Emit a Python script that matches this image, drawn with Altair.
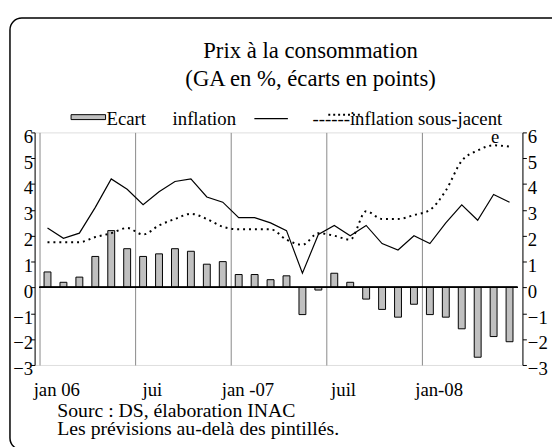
import altair as alt
import pandas as pd

# ---- data ----
months = list(range(30))  # jan 2006 .. jun 2008
ecart = [0.6, 0.2, 0.4, 1.2, 2.2, 1.5, 1.2, 1.3, 1.5, 1.4, 0.9, 1.0, 0.5, 0.5, 0.3,
         0.45, -1.05, -0.1, 0.55, 0.2, -0.45, -0.85, -1.15, -0.65, -1.05, -1.15, -1.6, -2.7, -1.9, -2.1]
inflation = [2.3, 1.9, 2.1, 3.1, 4.2, 3.8, 3.2, 3.7, 4.1, 4.2, 3.5, 3.3, 2.7, 2.7, 2.5,
             2.2, 0.55, 2.05, 2.4, 2.0, 2.4, 1.7, 1.45, 2.0, 1.7, 2.5, 3.2, 2.6, 3.6, 3.3]
sous_jacent = [1.75, 1.75, 1.75, 1.95, 2.1, 2.3, 2.05, 2.4, 2.65, 2.85, 2.65, 2.35, 2.25, 2.25, 2.25,
               1.85, 1.65, 2.1, 2.0, 1.85, 2.95, 2.65, 2.65, 2.8, 3.0, 3.75, 4.9, 5.3, 5.5, 5.45]
tick_pos = [-0.5, 5.5, 11.5, 17.5, 23.5]
tick_labels = ["jan 06", "jui", "jan -07", "juil", "jan-08"]
y_ticks = [6, 5, 4, 3, 2, 1, 0, -1, -2, -3]

title1 = "Prix à la consommation"
title2 = "(GA en %, écarts en points)"
leg_ecart = "Ecart"
leg_infl = "inflation"
leg_sj = "------inflation sous-jacent"
leg_e = "e"
source1 = "Sourc  : DS, élaboration INAC"
source2 = "Les prévisions au-delà des pintillés."

df = pd.DataFrame({"m": months, "ecart": ecart, "inflation": inflation, "sj": sous_jacent})

FONT = "Liberation Serif"
W, H = 495, 236
xdom = [-0.5, 29.5]
ydom = [-3, 6]

xscale = alt.Scale(domain=xdom, nice=False, zero=False)
yscale = alt.Scale(domain=ydom, nice=False, zero=False)

label_expr = ("indexof(" + str(tick_pos) + ", datum.value) >= 0 ? "
              + str(tick_labels) + "[indexof(" + str(tick_pos) + ", datum.value)] : ''")

xaxis = alt.Axis(values=tick_pos, labelExpr=label_expr, grid=True, gridColor="#888888",
                 gridWidth=1, domain=False, ticks=False, labelFont=FONT, labelFontSize=19,
                 labelColor="black", labelPadding=16, labelOffset=17, title=None,
                 labelAlign="center", labelOverlap=False, labelBound=False)

base = alt.Chart(df)

bars = base.mark_bar(width=7, fill="#c0c0c0", stroke="black", strokeWidth=1).encode(
    x=alt.X("m:Q", scale=xscale, axis=xaxis),
    y=alt.Y("ecart:Q", scale=yscale,
            axis=alt.Axis(values=y_ticks, orient="left", grid=False, domainColor="black",
                          tickColor="black", tickSize=4, labelPadding=-2, labelFont=FONT,
                          labelFontSize=19, labelColor="black", labelOffset=4, title=None)),
    y2=alt.datum(0),
)

zero_rule = base.mark_rule(color="black", strokeWidth=1).encode(
    x=alt.datum(xdom[0]), x2=alt.datum(xdom[1]),
    y=alt.datum(0, scale=yscale, axis=None),
)

line_infl = base.mark_line(color="black", strokeWidth=1.2).encode(
    x=alt.X("m:Q"),
    y=alt.Y("inflation:Q", scale=yscale,
            axis=alt.Axis(values=y_ticks, orient="right", grid=False, domainColor="black",
                          tickColor="black", tickSize=4, labelPadding=1, labelFont=FONT,
                          labelFontSize=19, labelColor="black", labelOffset=4, title=None)),
)

line_sj = base.mark_line(color="black", strokeWidth=2, strokeDash=[2, 4],
                         interpolate="monotone").encode(
    x=alt.X("m:Q"),
    y=alt.Y("sj:Q", scale=yscale, axis=None),
)

def txt(s, x, y, size, align="center"):
    return alt.Chart(pd.DataFrame({"t": [s]})).mark_text(
        font=FONT, fontSize=size, color="black", align=align, baseline="middle"
    ).encode(text="t:N", x=alt.value(x), y=alt.value(y))

one = pd.DataFrame({"k": [0]})
frame = alt.Chart(one).mark_rect(fill=None, stroke="black", strokeWidth=1.5, cornerRadius=12).encode(
    x=alt.value(-25), x2=alt.value(545), y=alt.value(-116), y2=alt.value(322))

leg_rect = alt.Chart(one).mark_rect(fill="#c0c0c0", stroke="black", strokeWidth=1).encode(
    x=alt.value(37), x2=alt.value(72), y=alt.value(-18), y2=alt.value(-13))
leg_line = alt.Chart(one).mark_rule(color="black", strokeWidth=1.2).encode(
    x=alt.value(223), x2=alt.value(257), y=alt.value(-14))
leg_dots = alt.Chart(one).mark_rule(color="black", strokeWidth=2, strokeDash=[2, 3]).encode(
    x=alt.value(298), x2=alt.value(332), y=alt.value(-18))

chart = alt.layer(
    frame,
    bars,
    zero_rule,
    line_sj,
    line_infl,
    txt(title1, 280, -82, 23),
    txt(title2, 280, -54, 23),
    leg_rect,
    txt(leg_ecart, 73, -14, 19, "left"),
    txt(leg_infl, 140, -14, 19, "left"),
    leg_line,
    txt(leg_sj, 282, -14, 19, "left"),
    leg_dots,
    txt(leg_e, 463, 5, 19, "left"),
    txt(source1, 23, 283, 20, "left"),
    txt(source2, 23, 301, 20, "left"),
).resolve_scale(y="independent").properties(
    width=W, height=H,
    autosize=alt.AutoSizeParams(type="none"),
    padding={"left": 27, "top": 123, "right": 30, "bottom": 80},
).configure_view(stroke=None).configure(background="white")

chart.save("out.html", embed_options={"renderer": "svg", "actions": False})
